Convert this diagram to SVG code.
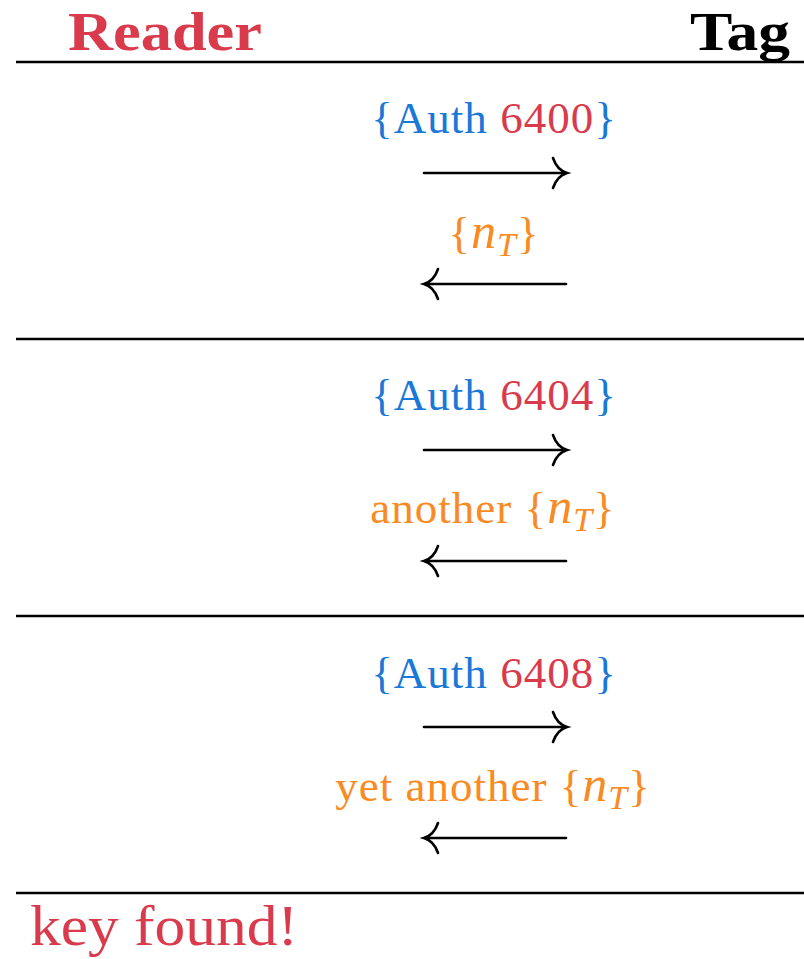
<svg xmlns="http://www.w3.org/2000/svg" width="804" height="959" viewBox="0 0 804 959">
  <style>
    text { font-family: "Liberation Serif", "DejaVu Serif", serif; }
    .head { font-weight: bold; font-size: 54px; }
    .lbl { font-size: 45px; text-anchor: middle; }
    .blue { fill: #1A78D7; }
    .red { fill: #D93B4C; }
    .orange { fill: #FA8A22; }
    .rule { stroke: #000; stroke-width: 2.5; }
    .arrow { fill: none; stroke: #000; stroke-width: 2.6; stroke-linecap: round; }
    .it { font-style: italic; font-size: 50px; }
    .sub { font-size: 34px; font-style: italic; }
    .wide { letter-spacing: 1px; }
  </style>
  <defs>
    <!-- LaTeX-style long arrows, origin at the shaft's vertical centre -->
    <g id="rarr">
      <path class="arrow" d="M424,0 H565"/>
      <path class="arrow" d="M553,-15 Q557,-3 567,0 Q557,3 553,15"/>
    </g>
    <g id="larr">
      <path class="arrow" d="M425,0 H566"/>
      <path class="arrow" d="M438,-15 Q434,-3 424,0 Q434,3 438,15"/>
    </g>
  </defs>

  <rect width="804" height="959" fill="#fff"/>

  <g id="reader">
    <text class="head red" x="68" y="50" textLength="194" lengthAdjust="spacingAndGlyphs">Reader</text>
  </g>
  <g id="tag">
    <text class="head" x="690" y="50" textLength="100" lengthAdjust="spacingAndGlyphs" fill="#000">Tag</text>
  </g>

  <g id="rules">
    <line class="rule" x1="16" y1="62" x2="804" y2="62"/>
    <line class="rule" x1="16" y1="339" x2="804" y2="339"/>
    <line class="rule" x1="16" y1="616" x2="804" y2="616"/>
    <line class="rule" x1="16" y1="893" x2="804" y2="893"/>
  </g>

  <!-- round 1 -->
  <g id="auth1">
    <text class="lbl blue wide" x="494" y="133">{Auth <tspan class="red">6400</tspan>}</text>
  </g>
  <g id="nonce1">
    <text class="lbl orange wide" x="494" y="248">{<tspan class="it">n</tspan><tspan class="sub" dy="8">T</tspan><tspan dy="-8">}</tspan></text>
  </g>

  <!-- round 2 -->
  <g id="auth2">
    <text class="lbl blue wide" x="494" y="410">{Auth <tspan class="red">6404</tspan>}</text>
  </g>
  <g id="nonce2">
    <text class="lbl orange wide" x="493" y="523">another {<tspan class="it">n</tspan><tspan class="sub" dy="8">T</tspan><tspan dy="-8">}</tspan></text>
  </g>

  <!-- round 3 -->
  <g id="auth3">
    <text class="lbl blue wide" x="494" y="688">{Auth <tspan class="red">6408</tspan>}</text>
  </g>
  <g id="nonce3">
    <text class="lbl orange wide" x="493" y="801">yet another {<tspan class="it">n</tspan><tspan class="sub" dy="8">T</tspan><tspan dy="-8">}</tspan></text>
  </g>

  <g id="result">
    <text class="red" x="30" y="945" font-size="58" textLength="268" lengthAdjust="spacingAndGlyphs">key found!</text>
  </g>

  <g id="connectors">
    <use href="#rarr" y="173"/>
    <use href="#larr" y="284"/>
    <use href="#rarr" y="450"/>
    <use href="#larr" y="561"/>
    <use href="#rarr" y="727"/>
    <use href="#larr" y="838"/>
  </g>
</svg>
